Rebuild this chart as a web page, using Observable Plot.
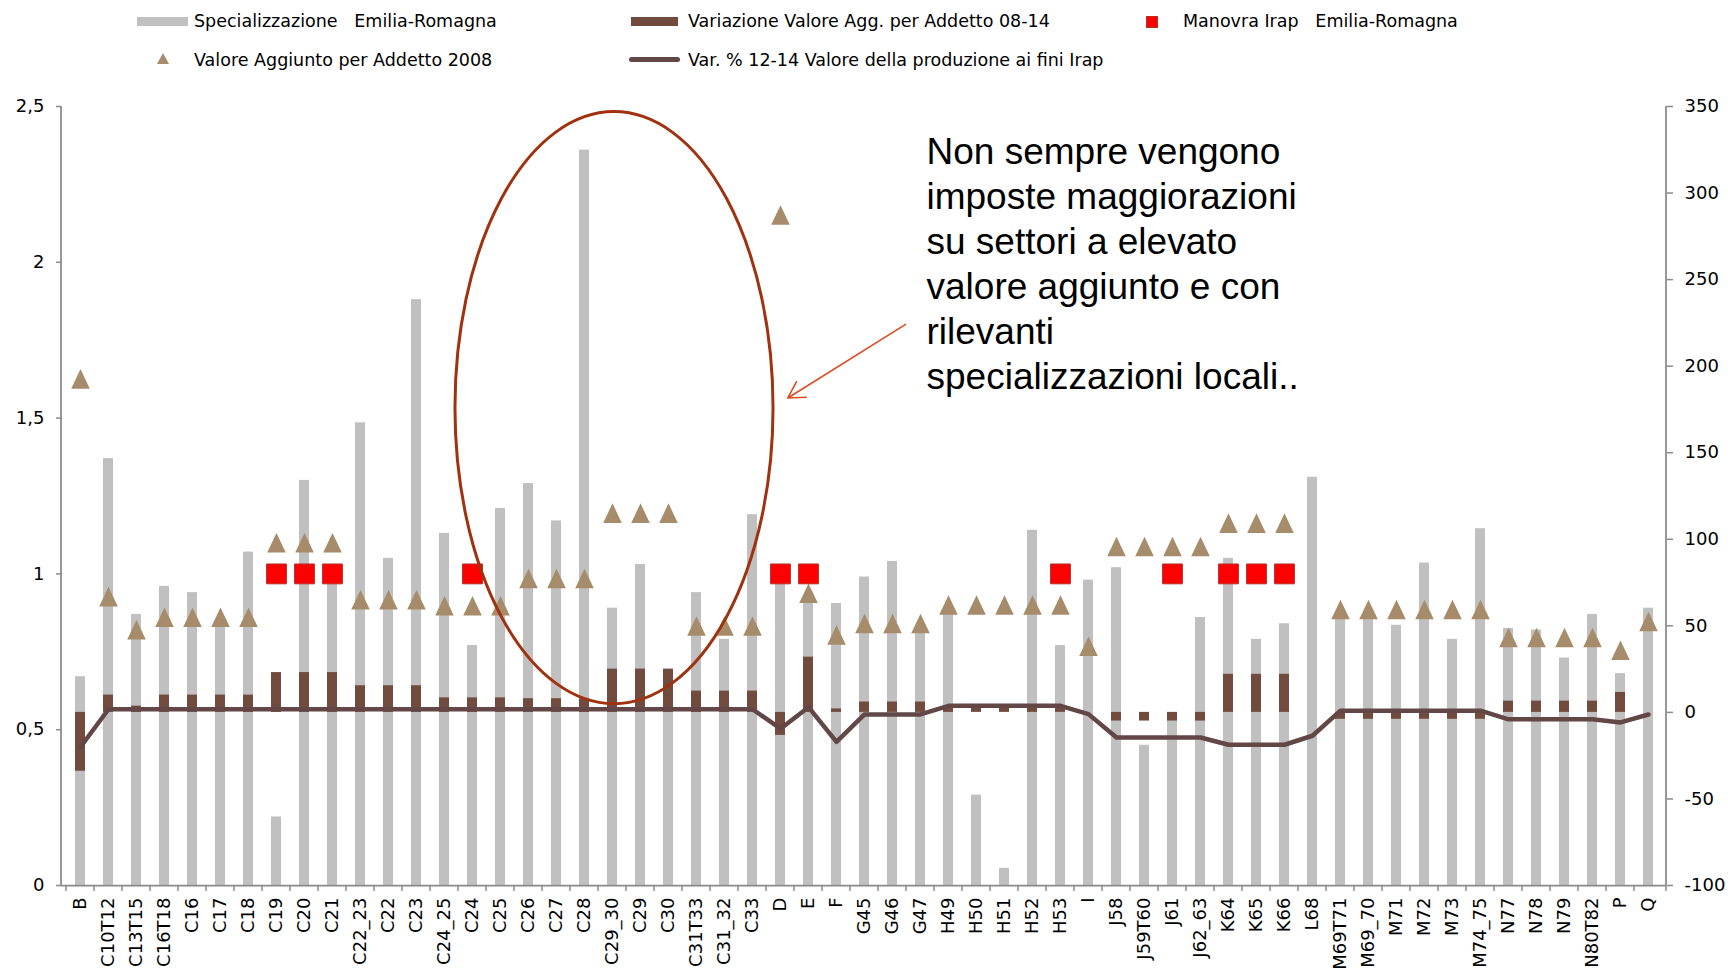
<!DOCTYPE html>
<html>
<head>
<meta charset="utf-8">
<script src="https://cdn.jsdelivr.net/npm/d3@7"></script>
<script src="https://cdn.jsdelivr.net/npm/@observablehq/plot@0.6"></script>
<style>
  html, body { margin: 0; padding: 0; background: #fff; width: 1728px; height: 973px; overflow: hidden; }
  #legend { position: relative; width: 1728px; height: 80px; font-family: "DejaVu Sans", sans-serif; }
  .lt { position: absolute; font-size: 17.5px; line-height: 18px; height: 18px; color: #000; white-space: pre; }
  .sw { position: absolute; }
  #chart svg { display: block; }
</style>
</head>
<body>
<div id="legend"></div>
<div id="chart"></div>
<script>
// ---------------- DATA ----------------
const categories = ["B","C10T12","C13T15","C16T18","C16","C17","C18","C19","C20","C21","C22_23","C22","C23","C24_25","C24","C25","C26","C27","C28","C29_30","C29","C30","C31T33","C31_32","C33","D","E","F","G45","G46","G47","H49","H50","H51","H52","H53","I","J58","J59T60","J61","J62_63","K64","K65","K66","L68","M69T71","M69_70","M71","M72","M73","M74_75","N77","N78","N79","N80T82","P","Q"];

// Specializzazione Emilia-Romagna (left axis)
const specializzazione = [0.67,1.37,0.87,0.96,0.94,0.84,1.07,0.22,1.30,1.00,1.485,1.05,1.88,1.13,0.77,1.21,1.29,1.17,2.36,0.89,1.03,0.66,0.94,0.79,1.19,0.98,0.92,0.905,0.99,1.04,0.81,0.87,0.29,0.055,1.14,0.77,0.98,1.02,0.45,0.53,0.86,1.05,0.79,0.84,1.31,0.86,0.86,0.835,1.035,0.79,1.145,0.825,0.82,0.73,0.87,0.68,0.89];

// Variazione Valore Agg. per Addetto 08-14 (right axis)
const variazioneVA = [-34,10,3.6,10,10,10,10,23,23,23,15.4,15.4,15.4,8.4,8.4,8.4,7.9,7.9,7.9,25,25,25,12.3,12.3,12.3,-13.3,31.9,2,6,6,6,2.5,2.5,2.5,2.5,2.5,0,-5,-5,-5,-5,22,22,22,0,-4,-4,-4,-4,-4,-4,6.5,6.5,6.5,6.5,11.5,0];

// Valore Aggiunto per Addetto 2008 (left axis)
const valoreAggiunto2008 = [1.626,0.927,0.821,0.861,0.861,0.861,0.861,1.10,1.10,1.10,0.917,0.917,0.917,0.898,0.898,0.898,0.985,0.985,0.985,1.195,1.195,1.195,0.833,0.833,0.833,2.152,0.938,0.804,0.841,0.841,0.841,0.90,0.90,0.90,0.90,0.90,0.768,1.088,1.088,1.088,1.088,1.163,1.163,1.163,null,0.886,0.886,0.886,0.886,0.886,0.886,0.796,0.796,0.796,0.796,0.755,0.847];

// Var. % 12-14 Valore della produzione ai fini Irap (right axis)
const varProduzione = [-20,1.8,1.8,1.8,1.8,1.8,1.8,1.8,1.8,1.8,1.8,1.8,1.8,1.8,1.8,1.8,1.8,1.8,1.8,1.8,1.8,1.8,1.8,1.8,1.8,-9.4,3,-17,-1.2,-1.2,-1.2,3.8,3.8,3.8,3.8,3.8,-1,-14.5,-14.5,-14.5,-14.5,-18.7,-18.7,-18.7,-13.5,1,1,1,1,1,1,-4,-4,-4,-4,-5.8,-1.2];

// Manovra Irap Emilia-Romagna (flag = 1 on left axis)
const manovraIrap = ["C19","C20","C21","C24","D","E","H53","J61","K64","K65","K66"];
const manovraValue = 1;

const leftTicks = [0, 0.5, 1, 1.5, 2, 2.5];
const rightTicks = [-100, -50, 0, 50, 100, 150, 200, 250, 300, 350];
const rightDomain = [-100, 350];

const legendLabels = ["Specializzazione   Emilia-Romagna", "Variazione Valore Agg. per Addetto 08-14", "Manovra Irap   Emilia-Romagna", "Valore Aggiunto per Addetto 2008", "Var. % 12-14 Valore della produzione ai fini Irap"];

const annotationLines = ["Non sempre vengono", "imposte maggiorazioni", "su settori a elevato", "valore aggiunto e con", "rilevanti", "specializzazioni locali.."];

// ---------------- COLOURS ----------------
const cGray = "#c0c0c0", cBrown = "#714b3d", cTri = "#a68c6a", cLine = "#634747", cRed = "#ff0000", cAxis = "#8a8a8a";

// ---------------- LEGEND ----------------
const legend = document.getElementById("legend");
function add(html) { legend.insertAdjacentHTML("beforeend", html); }
// row 1
add(`<div class="sw" style="left:137px;top:17px;width:51px;height:9px;background:${cGray}"></div>`);
add(`<div class="lt" style="left:194px;top:12px">${legendLabels[0]}</div>`);
add(`<div class="sw" style="left:631px;top:17px;width:47px;height:9px;background:${cBrown}"></div>`);
add(`<div class="lt" style="left:688px;top:12px">${legendLabels[1]}</div>`);
add(`<div class="sw" style="left:1146px;top:16px;width:10px;height:10px;background:${cRed};border:1px solid #b3312c"></div>`);
add(`<div class="lt" style="left:1183px;top:12px">${legendLabels[2]}</div>`);
// row 2
add(`<svg class="sw" style="left:157px;top:53px" width="12" height="11"><path d="M6,0L12,11L0,11Z" fill="${cTri}"/></svg>`);
add(`<div class="lt" style="left:194px;top:51px">${legendLabels[3]}</div>`);
add(`<div class="sw" style="left:629px;top:57px;width:51px;height:5px;border-radius:3px;background:${cLine}"></div>`);
add(`<div class="lt" style="left:688px;top:51px">${legendLabels[4]}</div>`);

// ---------------- CHART ----------------
const toLeft = v => (v - rightDomain[0]) / (rightDomain[1] - rightDomain[0]) * 2.5;
const fromLeft = v => v / 2.5 * (rightDomain[1] - rightDomain[0]) + rightDomain[0];

const rows = categories.map((c, i) => ({
  cat: c,
  spec: specializzazione[i],
  varVA: variazioneVA[i],
  va2008: valoreAggiunto2008[i],
  varProd: varProduzione[i],
  irap: manovraIrap.includes(c) ? manovraValue : null
}));

const triangleSymbol = {
  draw(ctx, size) {
    const r = Math.sqrt(size / Math.PI);
    ctx.moveTo(0, -1.36 * r);
    ctx.lineTo(1.29 * r, 1.36 * r);
    ctx.lineTo(-1.29 * r, 1.36 * r);
    ctx.closePath();
  }
};

const W = 1728, H = 893;
const plot = Plot.plot({
  width: W, height: H,
  marginTop: 26, marginBottom: 88, marginLeft: 61, marginRight: 62,
  style: {fontFamily: "DejaVu Sans, sans-serif", fontSize: "18px", background: "#fff", color: "#000", overflow: "visible"},
  x: {type: "band", domain: categories, padding: 0, label: null},
  y: {domain: [0, 2.5], label: null},
  marks: [
    Plot.barY(rows, {x: "cat", y: "spec", fill: cGray, insetLeft: 9, insetRight: 9}),
    Plot.barY(rows.filter(d => d.varVA), {x: "cat", y1: () => toLeft(0), y2: d => toLeft(d.varVA), fill: cBrown, insetLeft: 9, insetRight: 9}),
    Plot.line(rows, {x: "cat", y: d => toLeft(d.varProd), stroke: cLine, strokeWidth: 4.5, strokeLinejoin: "round", strokeLinecap: "round"}),
    Plot.dot(rows.filter(d => d.va2008 != null), {x: "cat", y: "va2008", symbol: triangleSymbol, r: 7.2, fill: cTri, stroke: "none"}),
    Plot.dot(rows.filter(d => d.irap != null), {x: "cat", y: "irap", symbol: "square", r: 11.2, fill: cRed, stroke: "#b3312c", strokeWidth: 1}),
    Plot.ruleY([0], {stroke: cAxis, strokeWidth: 1.75}),
    Plot.axisY({anchor: "left", ticks: leftTicks, tickFormat: d => String(d).replace(".", ","), tickSize: 5, tickPadding: 12, stroke: cAxis, strokeWidth: 1.5, fill: "#000", fontSize: 18}),
    Plot.axisY({anchor: "right", ticks: rightTicks.map(toLeft), tickFormat: d => String(Math.round(fromLeft(d))), tickSize: 6, tickPadding: 12, stroke: cAxis, strokeWidth: 1.5, fill: "#000", fontSize: 18}),
    Plot.axisX({anchor: "bottom", tickRotate: -90, tickSize: 0, tickPadding: 12, fill: "#000", fontSize: 18}),
    Plot.text([annotationLines.join("\n")], {x: () => "G47", y: () => 2.418, text: d => d, textAnchor: "start", lineAnchor: "top", lineHeight: 1.216, dx: 6, fontSize: 37, fontFamily: "Liberation Sans, Arial, sans-serif", fill: "#000"})
  ]
});
document.getElementById("chart").appendChild(plot);

// ------------- axis lines, category boundary ticks, annotations (through Plot scales) -------------
const xs = plot.scale("x"), ys = plot.scale("y");
const svg = d3.select(plot);
const xL = xs.range[0], xR = xs.range[1];
const y0 = ys.apply(0), yTop = ys.apply(2.5);
const g = svg.append("g");
g.append("line").attr("x1", xL).attr("x2", xL).attr("y1", yTop).attr("y2", y0).attr("stroke", cAxis).attr("stroke-width", 1.75);
g.append("line").attr("x1", xR).attr("x2", xR).attr("y1", yTop).attr("y2", y0).attr("stroke", cAxis).attr("stroke-width", 1.75);
categories.concat([null]).forEach(c => {
  const x = c == null ? xR : xs.apply(c);
  g.append("line").attr("x1", x).attr("x2", x).attr("y1", y0).attr("y2", y0 + 6).attr("stroke", cAxis).attr("stroke-width", 1.5);
});

// ellipse around C28..C30 (data space)
const ell = {cat: "C29_30", y: 1.532, halfSteps: 5.68, halfY: 0.95};
const ecx = xs.apply(ell.cat) + xs.bandwidth / 2 + 2;
const ecy = ys.apply(ell.y);
g.append("ellipse").attr("cx", ecx).attr("cy", ecy)
  .attr("rx", ell.halfSteps * xs.step)
  .attr("ry", ys.apply(ell.y - ell.halfY) - ecy)
  .attr("fill", "none").attr("stroke", "#a0320f").attr("stroke-width", 3);

// arrow
const arr = {fromCat: "G47", fromOff: 0, fromY: 1.80, toCat: "D", toOff: 0.78, toY: 1.563};
const ax1 = xs.apply(arr.fromCat) + arr.fromOff * xs.step, ay1 = ys.apply(arr.fromY);
const ax2 = xs.apply(arr.toCat) + arr.toOff * xs.step, ay2 = ys.apply(arr.toY);
const ang = Math.atan2(ay1 - ay2, ax1 - ax2), hl = 19, ha = Math.PI / 6;
const p = `M${ax1},${ay1}L${ax2},${ay2}M${ax2 + hl * Math.cos(ang - ha)},${ay2 + hl * Math.sin(ang - ha)}L${ax2},${ay2}L${ax2 + hl * Math.cos(ang + ha)},${ay2 + hl * Math.sin(ang + ha)}`;
g.append("path").attr("d", p).attr("fill", "none").attr("stroke", "#e04a22").attr("stroke-width", 1.6);
</script>
</body>
</html>
